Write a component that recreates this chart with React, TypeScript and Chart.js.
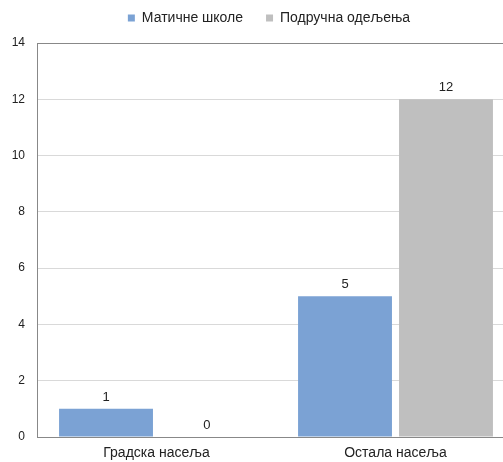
import React, { useEffect, useRef } from "react";
import { Chart, registerables } from "chart.js";

Chart.register(...registerables);

const categories = ["Градска насеља", "Остала насеља"];
const seriesNames = ["Матичне школе", "Подручна одељења"];
const maticneSkole = [1, 5];
const podrucnaOdeljenja = [0, 12];
const yTicks = [0, 2, 4, 6, 8, 10, 12, 14];

const FONT = "'Liberation Sans', Arial, sans-serif";

const valueLabels = {
  id: "valueLabels",
  beforeLayout(chart: any) {
    const lg = chart.legend;
    if (lg && !lg._patched) {
      const orig = lg.fit;
      lg.fit = function () {
        orig.call(this);
        this.height = 55;
      };
      lg._patched = true;
    }
  },
  afterDatasetsDraw(chart: any) {
    const ctx = chart.ctx;
    ctx.save();
    ctx.font = `13px ${FONT}`;
    ctx.fillStyle = "#222";
    ctx.textAlign = "center";
    ctx.textBaseline = "bottom";
    chart.data.datasets.forEach((ds: any, i: number) => {
      const meta = chart.getDatasetMeta(i);
      meta.data.forEach((bar: any, j: number) => {
        ctx.fillText(String(ds.data[j]), bar.x, bar.y - 5);
      });
    });
    ctx.restore();
  },
};

export default function App() {
  const ref = useRef<HTMLCanvasElement>(null);
  useEffect(() => {
    if (!ref.current) return;
    const chart = new Chart(ref.current, {
      type: "bar",
      data: {
        labels: categories,
        datasets: [
          {
            label: seriesNames[0],
            data: maticneSkole,
            backgroundColor: "#7BA2D4",
            categoryPercentage: 0.845,
            barPercentage: 0.93,
          },
          {
            label: seriesNames[1],
            data: podrucnaOdeljenja,
            backgroundColor: "#BFBFBF",
            categoryPercentage: 0.845,
            barPercentage: 0.93,
          },
        ],
      },
      options: {
        responsive: false,
        animation: false,
        layout: { padding: { top: -12, right: 0, left: 0, bottom: 0 } },
        plugins: {
          legend: {
            position: "top",
            labels: {
              font: { family: FONT, size: 14 },
              color: "#222",
              boxWidth: 7,
              boxHeight: 7,
              padding: 23,
            },
          },
          tooltip: { enabled: false },
        },
        scales: {
          x: {
            grid: { display: false, drawTicks: false },
            border: { color: "#888", width: 1 },
            ticks: { font: { family: FONT, size: 14 }, color: "#222", padding: 8 },
            afterFit: (s: any) => {
              s.height = 25;
            },
          },
          y: {
            min: 0,
            max: 14,
            afterBuildTicks: (s: any) => {
              s.ticks = yTicks.map((v) => ({ value: v }));
            },
            grid: {
              drawTicks: false,
              color: (c: any) => (c.tick && c.tick.value === 14 ? "#888" : "#D9D9D9"),
            },
            border: { color: "#888", width: 1 },
            ticks: { font: { family: FONT, size: 12 }, color: "#222", padding: 12 },
            afterFit: (s: any) => {
              s.width = 37;
            },
          },
          yRight: {
            position: "right",
            min: 0,
            max: 14,
            grid: { display: false, drawTicks: false },
            border: { display: false },
            ticks: { display: false },
            afterFit: (s: any) => {
              s.width = 23;
            },
          },
        },
      },
      plugins: [valueLabels],
    });
    return () => chart.destroy();
  }, []);
  return (
    <div style={{ position: "fixed", left: 0, top: 0, width: 503, height: 462, overflow: "hidden", background: "#fff" }}>
      <canvas ref={ref} width={538} height={462} style={{ display: "block" }} />
    </div>
  );
}
